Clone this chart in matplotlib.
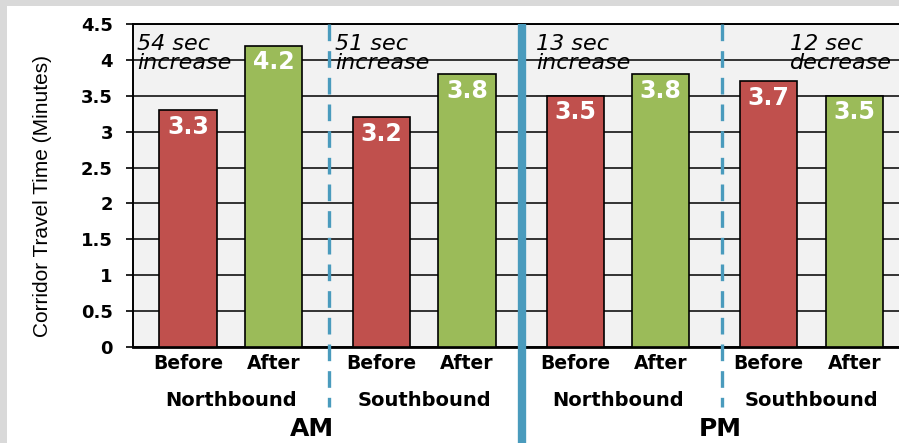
import numpy as np
import matplotlib.pyplot as plt
import matplotlib.transforms as mtransforms
from matplotlib.patches import Rectangle

# travel times (minutes) for each period / direction
periods = ["AM", "PM"]
directions = ["Northbound", "Southbound", "Northbound", "Southbound"]
phases = ["Before", "After"]
before_vals = [3.3, 3.2, 3.5, 3.7]
after_vals = [4.2, 3.8, 3.8, 3.5]
notes = ["54 sec\nincrease", "51 sec\nincrease", "13 sec\nincrease", "12 sec\ndecrease"]
yticks = [0, 0.5, 1, 1.5, 2, 2.5, 3, 3.5, 4, 4.5]

RED = "#c0504d"
GREEN = "#9bbb59"
BLUE = "#4a9bbd"
FRAME = "#d9d9d9"

W, H = 899, 443
fig = plt.figure(figsize=(W / 100, H / 100), dpi=100)
fig.patch.set_facecolor("white")
# grey frame strips along the left and top edges
fig.patches.append(Rectangle((0, 0), 7 / W, 1, transform=fig.transFigure,
                             facecolor=FRAME, edgecolor="none"))
fig.patches.append(Rectangle((0, 1 - 6 / H), 1, 6 / H, transform=fig.transFigure,
                             facecolor=FRAME, edgecolor="none"))

ax = fig.add_axes([133 / W, 96 / H, 775 / W, 323 / H])
ax.set_facecolor("#f2f2f2")

pitch = 2.264  # distance between group starts
width = 0.67
group_x = np.arange(4) * pitch
bx = group_x
ax_ = group_x + 1

ax.bar(bx, before_vals, width, color=RED, edgecolor="black", linewidth=1.2, zorder=3)
ax.bar(ax_, after_vals, width, color=GREEN, edgecolor="black", linewidth=1.2, zorder=3)

for xs, vals in ((bx, before_vals), (ax_, after_vals)):
    for x, v in zip(xs, vals):
        ax.text(x, v - 0.23, f"{v:.1f}", ha="center", va="center", color="white",
                fontsize=17, fontweight="bold", family="DejaVu Sans", zorder=4)

ax.set_xlim(-0.643, 8.42)
ax.set_ylim(0, 4.5)
ax.set_yticks(yticks, [f"{t:g}" for t in yticks])
ax.yaxis.grid(True, color="black", linewidth=1.1, zorder=1)
ax.set_axisbelow(True)
ax.tick_params(axis="y", length=5, width=1.2, pad=9.5, labelsize=13)
for lab in ax.get_yticklabels():
    lab.set_fontweight("bold")
    lab.set_family("DejaVu Sans")

xt = np.ravel(np.column_stack([bx, ax_]))
ax.set_xticks(xt, phases * 4)
ax.tick_params(axis="x", length=0, pad=5, labelsize=13.5)
for lab in ax.get_xticklabels():
    lab.set_fontweight("bold")
    lab.set_family("DejaVu Sans")

for side in ("top", "left"):
    ax.spines[side].set_linewidth(1.4)
ax.spines["bottom"].set_linewidth(2)
ax.spines["right"].set_visible(False)

ax.set_ylabel("Corridor Travel Time (Minutes)", fontsize=15,
              family=["Liberation Sans Narrow", "Liberation Sans"])
ax.yaxis.set_label_coords(-0.105, 0.467)

trans = mtransforms.blended_transform_factory(ax.transData, ax.transAxes)

# direction labels under each pair
for gx, d in zip(group_x, directions):
    ax.text(gx + 0.5, -0.165, d, transform=trans, ha="center", va="center",
            fontsize=14, fontweight="bold", family="DejaVu Sans", clip_on=False)

# period labels
for x, p in zip([1.45, 6.22], periods):
    ax.text(x, -0.255, p, transform=trans, ha="center", va="center",
            fontsize=18, fontweight="bold", family="DejaVu Sans", clip_on=False)

# change notes
note_x = [-0.596, 1.72, 4.07, 7.04]
for x, n in zip(note_x, notes):
    ax.text(x, 4.36, n, ha="left", va="top", fontsize=16, style="italic",
            family="DejaVu Sans", linespacing=0.95, zorder=5)

# separators: dashed between directions, solid between periods
for x in (1.649, 6.246):
    ax.plot([x, x], [4.5, -0.84], color=BLUE, linewidth=2.4, dashes=(5, 3),
            clip_on=False, zorder=6)
ax.plot([3.906, 3.906], [4.5, -1.4], color=BLUE, linewidth=6, solid_capstyle="butt",
        clip_on=False, zorder=6)

fig.savefig("out.png", dpi=100, facecolor=fig.get_facecolor())
